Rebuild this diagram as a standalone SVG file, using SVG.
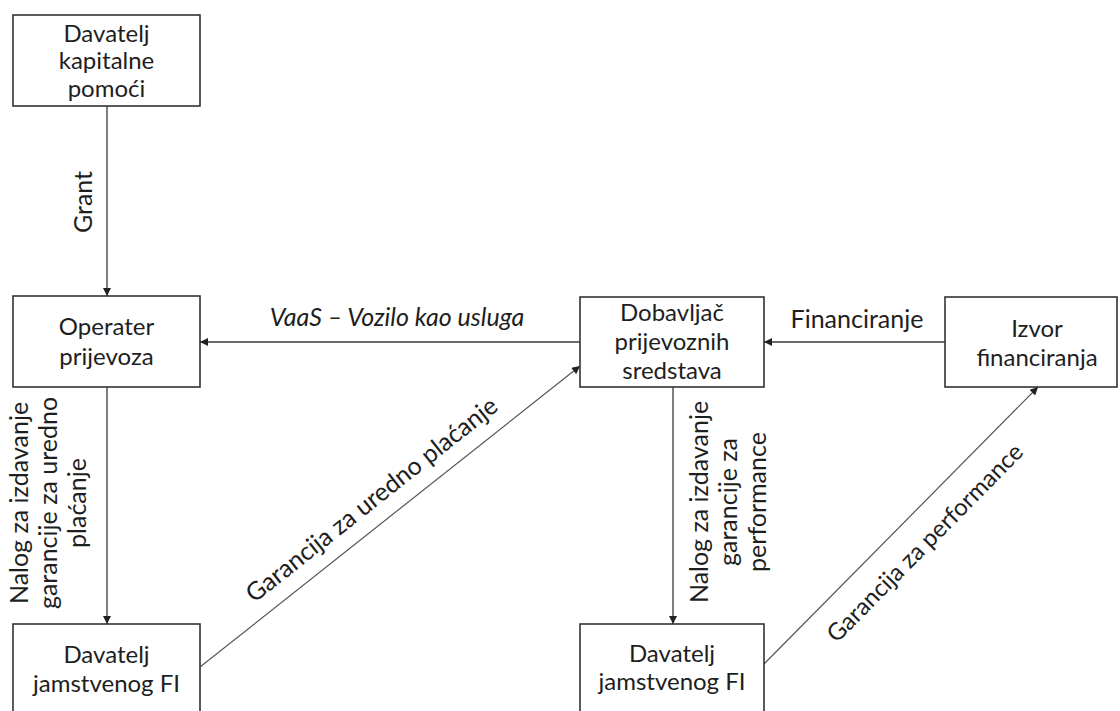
<svg xmlns="http://www.w3.org/2000/svg" width="1120" height="711" viewBox="0 0 1120 711">
<defs>
<style>
.box{fill:#fff;stroke:#333;stroke-width:1.6}
.t{font-family:Lato,"Open Sans","Liberation Sans",sans-serif;font-size:24px;fill:#1e1e1e;text-anchor:middle}
.l{font-size:25px}
.i{font-style:italic}
.c{fill:none;stroke:#3a3a3a;stroke-width:1.3}
.d{fill:none;stroke:#555;stroke-width:1.2}
</style>
<marker id="ah" viewBox="0 0 10 10" refX="10" refY="5" markerWidth="9" markerHeight="8" markerUnits="userSpaceOnUse" orient="auto">
<path d="M0,0 L10,5 L0,10 z" fill="#222"/>
</marker>
</defs>
<rect width="1120" height="711" fill="#fff"/>
<g id="connectors">
<line class="c" x1="107" y1="106" x2="107" y2="296" marker-end="url(#ah)"/>
<line class="c" x1="107" y1="387" x2="107" y2="624" marker-end="url(#ah)"/>
<line class="c" x1="580" y1="342" x2="200" y2="342" marker-end="url(#ah)"/>
<line class="c" x1="945" y1="342" x2="764" y2="342" marker-end="url(#ah)"/>
<line class="c" x1="673" y1="387" x2="673" y2="624" marker-end="url(#ah)"/>
<line class="d" x1="200" y1="667" x2="580" y2="366" marker-end="url(#ah)"/>
<line class="d" x1="764" y1="664" x2="1038" y2="387" marker-end="url(#ah)"/>
<text class="t l" transform="translate(92,202) rotate(-90)">Grant</text>
<g transform="translate(0,503) rotate(-90)">
<text class="t l" x="0" y="28">Nalog za izdavanje</text>
<text class="t l" x="0" y="57">garancije za uredno</text>
<text class="t l" x="0" y="86">plaćanje</text>
</g>
<g transform="translate(0,502) rotate(-90)">
<text class="t l" x="0" y="708">Nalog za izdavanje</text>
<text class="t l" x="0" y="737">garancije za</text>
<text class="t l" x="0" y="766">performance</text>
</g>
<text class="t l i" x="397" y="326">VaaS – Vozilo kao usluga</text>
<text class="t l" x="857" y="328">Financiranje</text>
<text class="t l" transform="translate(372,500) rotate(-38.4)" y="8">Garancija za uredno plaćanje</text>
<text class="t" transform="translate(925,543) rotate(-45.4)" y="8">Garancija za performance</text>
</g>
<g id="n1">
<rect class="box" x="13" y="15" width="187" height="91"/>
<text class="t" x="106.5" y="42">Davatelj</text>
<text class="t" x="106.5" y="69">kapitalne</text>
<text class="t" x="106.5" y="97">pomoći</text>
</g>
<g id="n2">
<rect class="box" x="13" y="296" width="187" height="91"/>
<text class="t" x="106.5" y="335">Operater</text>
<text class="t" x="106.5" y="365">prijevoza</text>
</g>
<g id="n3">
<rect class="box" x="13" y="624" width="187" height="100"/>
<text class="t" x="106.5" y="663">Davatelj</text>
<text class="t" x="106.5" y="692">jamstvenog FI</text>
</g>
<g id="n4">
<rect class="box" x="580" y="297" width="184" height="90"/>
<text class="t" x="672" y="321">Dobavljač</text>
<text class="t" x="672" y="350">prijevoznih</text>
<text class="t" x="672" y="379">sredstava</text>
</g>
<g id="n5">
<rect class="box" x="945" y="297" width="172" height="90"/>
<text class="t" x="1037" y="337">Izvor</text>
<text class="t" x="1037" y="366">financiranja</text>
</g>
<g id="n6">
<rect class="box" x="580" y="624" width="184" height="100"/>
<text class="t" x="672" y="662">Davatelj</text>
<text class="t" x="672" y="690">jamstvenog FI</text>
</g>
</svg>
